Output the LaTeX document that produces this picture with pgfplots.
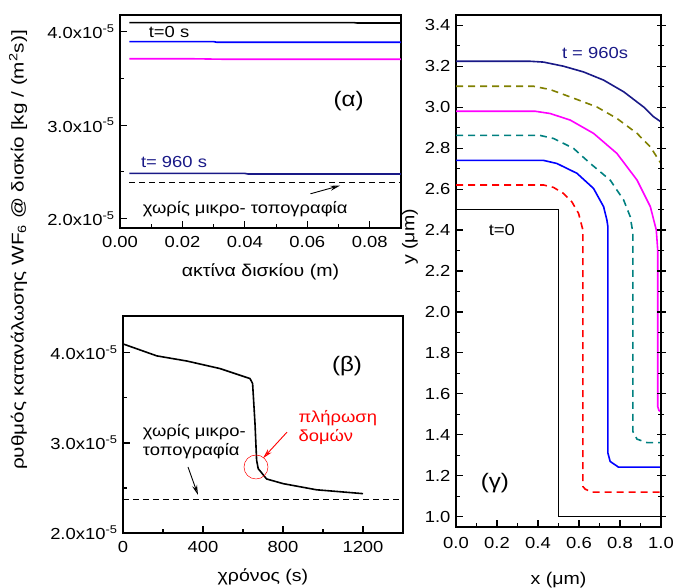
\documentclass[border=0pt]{standalone}
\usepackage{fontspec}
\setmainfont{Liberation Sans}[FakeStretch=1.15]
\usepackage{pgfplots}
\pgfplotsset{compat=1.18}
\usetikzlibrary{arrows.meta}
\definecolor{navyc}{RGB}{25,25,135}
\definecolor{olivec}{RGB}{128,128,0}
\definecolor{tealc}{RGB}{0,128,128}
\definecolor{magc}{RGB}{255,0,255}
\definecolor{bluec}{RGB}{0,0,255}
\definecolor{redc}{RGB}{255,0,0}
\begin{document}
\fontsize{16}{19}\selectfont
\begin{tikzpicture}
\useasboundingbox (0,0) rectangle (673pt,588pt);
\pgfplotsset{
  common/.style={
    scale only axis,
    anchor=south west,
    axis line style={line width=1.3pt},
    tick style={line width=1.1pt, black},
    major tick length=7pt,
    minor tick length=4pt,
    tick align=inside,
    xtick pos=bottom, ytick pos=left,
    scaled ticks=false,
    /pgf/number format/assume math mode=true,
    /pgf/number format/1000 sep={},
    ticklabel style={font=\fontsize{16}{19}\selectfont},
    xticklabel style={yshift=-3pt},
    label style={font=\fontsize{17}{20}\selectfont},
    xlabel style={yshift=-5pt},
    every axis plot/.append style={line width=1.6pt},
  }
}
% (alpha)
\begin{axis}[common, at={(120pt,360pt)}, width=281pt, height=213pt,
  xmin=0, xmax=0.09, ymin=1.9, ymax=4.18,
  xtick={0,0.02,0.04,0.06,0.08}, minor xtick={0.01,0.03,0.05,0.07},
  xticklabels={0.00,0.02,0.04,0.06,0.08},
  ytick={2,3,4}, minor ytick={2.5,3.5},
  yticklabels={2.0x10\textsuperscript{-5},3.0x10\textsuperscript{-5},4.0x10\textsuperscript{-5}},
  xlabel={ακτίνα δισκίου (m)}]
\addplot[black] coordinates {(0.003,4.098) (0.075,4.098) (0.076,4.094) (0.09,4.094)};
\addplot[bluec] coordinates {(0.003,3.895) (0.030,3.895) (0.031,3.888) (0.09,3.888)};
\addplot[magc] coordinates {(0.003,3.712) (0.022,3.712) (0.034,3.706) (0.09,3.706)};
\addplot[navyc] coordinates {(0.003,2.484) (0.040,2.484) (0.041,2.478) (0.09,2.478)};
\addplot[black, line width=1.3pt, dash pattern=on 6pt off 4pt] coordinates {(0.003,2.387) (0.09,2.387)};
\node[black] at (axis cs:0.0157,4.0) {t=0 s};
\node[navyc] at (axis cs:0.0173,2.606) {t= 960 s};
\node[font=\fontsize{21}{25}\selectfont] at (axis cs:0.0732,3.255) {(α)};
\node at (axis cs:0.0401,2.106) {χωρίς μικρο- τοπογραφία};
\draw[-{Stealth[open,length=10pt,width=5pt]}, line width=0.9pt] (axis cs:0.061,2.266) -- (axis cs:0.0705,2.354);
\end{axis}
% (beta)
\begin{axis}[common, at={(123pt,55pt)}, width=280pt, height=217pt,
  xmin=0, xmax=1400, ymin=2.0, ymax=4.41,
  xtick={0,400,800,1200}, minor xtick={200,600,1000},
  ytick={2,3,4}, minor ytick={2.5,3.5},
  yticklabels={2.0x10\textsuperscript{-5},3.0x10\textsuperscript{-5},4.0x10\textsuperscript{-5}},
  xlabel={χρόνος (s)}]
\addplot[black] coordinates {(0,4.10) (169,3.967) (319,3.91) (485,3.826) (635,3.715) (648,3.66) (660,3.215) (668,2.81) (676,2.715) (718,2.60) (801,2.548) (967,2.48) (1200,2.437)};
\addplot[black, line width=1.3pt, dash pattern=on 6pt off 4pt] coordinates {(0,2.37) (1400,2.37)};
\node[font=\fontsize{21}{25}\selectfont] at (axis cs:1120,3.85) {(β)};
\node[anchor=west, align=left] at (axis cs:72,3.015) {χωρίς μικρο-\\τοπογραφία};
\draw[-{Stealth[open,length=10pt,width=5pt]}, line width=0.9pt] (axis cs:325,2.733) -- (axis cs:375,2.422);
\node[anchor=west, align=left, redc] at (axis cs:850,3.17) {πλήρωση\\δομών};
\draw[-{Stealth[open,length=10pt,width=5pt]}, line width=0.9pt, redc] (axis cs:820,3.12) -- (axis cs:700,2.83);
\draw[redc, line width=0.5pt] (axis cs:665,2.733) circle[radius=12pt];
\end{axis}
% (gamma)
\begin{axis}[common, at={(456pt,61pt)}, width=205pt, height=512pt,
  xmin=0, xmax=1, ymin=0.95, ymax=3.45,
  xtick={0,0.2,0.4,0.6,0.8,1.0}, minor xtick={0.1,0.3,0.5,0.7,0.9},
  ytick={1.0,1.2,1.4,1.6,1.8,2.0,2.2,2.4,2.6,2.8,3.0,3.2,3.4},
  minor ytick={1.1,1.3,1.5,1.7,1.9,2.1,2.3,2.5,2.7,2.9,3.1,3.3},
  xticklabel style={yshift=-2pt, /pgf/number format/.cd, fixed, fixed zerofill, precision=1},
  yticklabel style={/pgf/number format/.cd, fixed, fixed zerofill, precision=1},
  xlabel style={yshift=-7pt},
  xlabel={x (μm)}]
\addplot[black, line width=1.1pt] coordinates {(0,2.5) (0.5,2.5) (0.5,1.0) (1.0,1.0)};
\addplot[redc, dash pattern=on 7pt off 5pt] coordinates {(0,2.62) (0.427,2.62) (0.476,2.608) (0.524,2.579) (0.565,2.538) (0.598,2.481) (0.619,2.40) (0.619,1.148) (0.630,1.135) (0.663,1.12) (1.0,1.12)};
\addplot[bluec] coordinates {(0,2.74) (0.427,2.74) (0.492,2.725) (0.59,2.677) (0.671,2.603) (0.72,2.514) (0.736,2.449) (0.741,2.416) (0.741,1.311) (0.752,1.27) (0.793,1.242) (1.0,1.242)};
\addplot[tealc, dash pattern=on 7pt off 5pt] coordinates {(0,2.862) (0.41,2.862) (0.476,2.847) (0.573,2.799) (0.655,2.725) (0.752,2.644) (0.818,2.546) (0.85,2.465) (0.863,2.384) (0.863,1.416) (0.883,1.379) (0.932,1.362) (1.0,1.362)};
\addplot[magc] coordinates {(0,2.98) (0.386,2.98) (0.459,2.969) (0.557,2.937) (0.671,2.872) (0.785,2.774) (0.883,2.644) (0.948,2.514) (0.977,2.40) (0.984,2.302) (0.984,1.538) (0.99,1.519) (1.0,1.514)};
\addplot[olivec, dash pattern=on 7pt off 5pt] coordinates {(0,3.102) (0.378,3.102) (0.459,3.086) (0.557,3.05) (0.687,3.001) (0.785,2.945) (0.883,2.872) (0.948,2.806) (1.0,2.725)};
\addplot[navyc] coordinates {(0,3.224) (0.362,3.224) (0.427,3.22) (0.524,3.2) (0.622,3.172) (0.72,3.132) (0.818,3.075) (0.915,3.001) (0.964,2.953) (1.0,2.928)};
\node[navyc] at (axis cs:0.678,3.263) {t = 960s};
\node at (axis cs:0.224,2.40) {t=0};
\node[font=\fontsize{21}{25}\selectfont] at (axis cs:0.19,1.166) {(γ)};
\end{axis}
\begin{axis}[scale only axis, anchor=south west, at={(456pt,61pt)}, width=205pt, height=512pt,
  xmin=0, xmax=1, ymin=0.95, ymax=3.45, hide x axis, axis y line*=right,
  axis line style={line width=1.3pt}, tick style={line width=1.1pt, black},
  major tick length=9pt, minor tick length=6pt, ytick align=center,
  ytick={1.0,1.2,1.4,1.6,1.8,2.0,2.2,2.4,2.6,2.8,3.0,3.2,3.4},
  minor ytick={1.1,1.3,1.5,1.7,1.9,2.1,2.3,2.5,2.7,2.9,3.1,3.3},
  yticklabels={}]
\end{axis}
\node[rotate=90] at (18pt,338pt) {\fontsize{17}{20}\selectfont\scalebox{1.06}[1]{ρυθμός κατανάλωσης WF\textsubscript{6} @ δισκίο [kg / (m\textsuperscript{2}s)]}};
\node[rotate=90] at (410pt,351pt) {\fontsize{17}{20}\selectfont y (μm)};
\end{tikzpicture}
\end{document}
